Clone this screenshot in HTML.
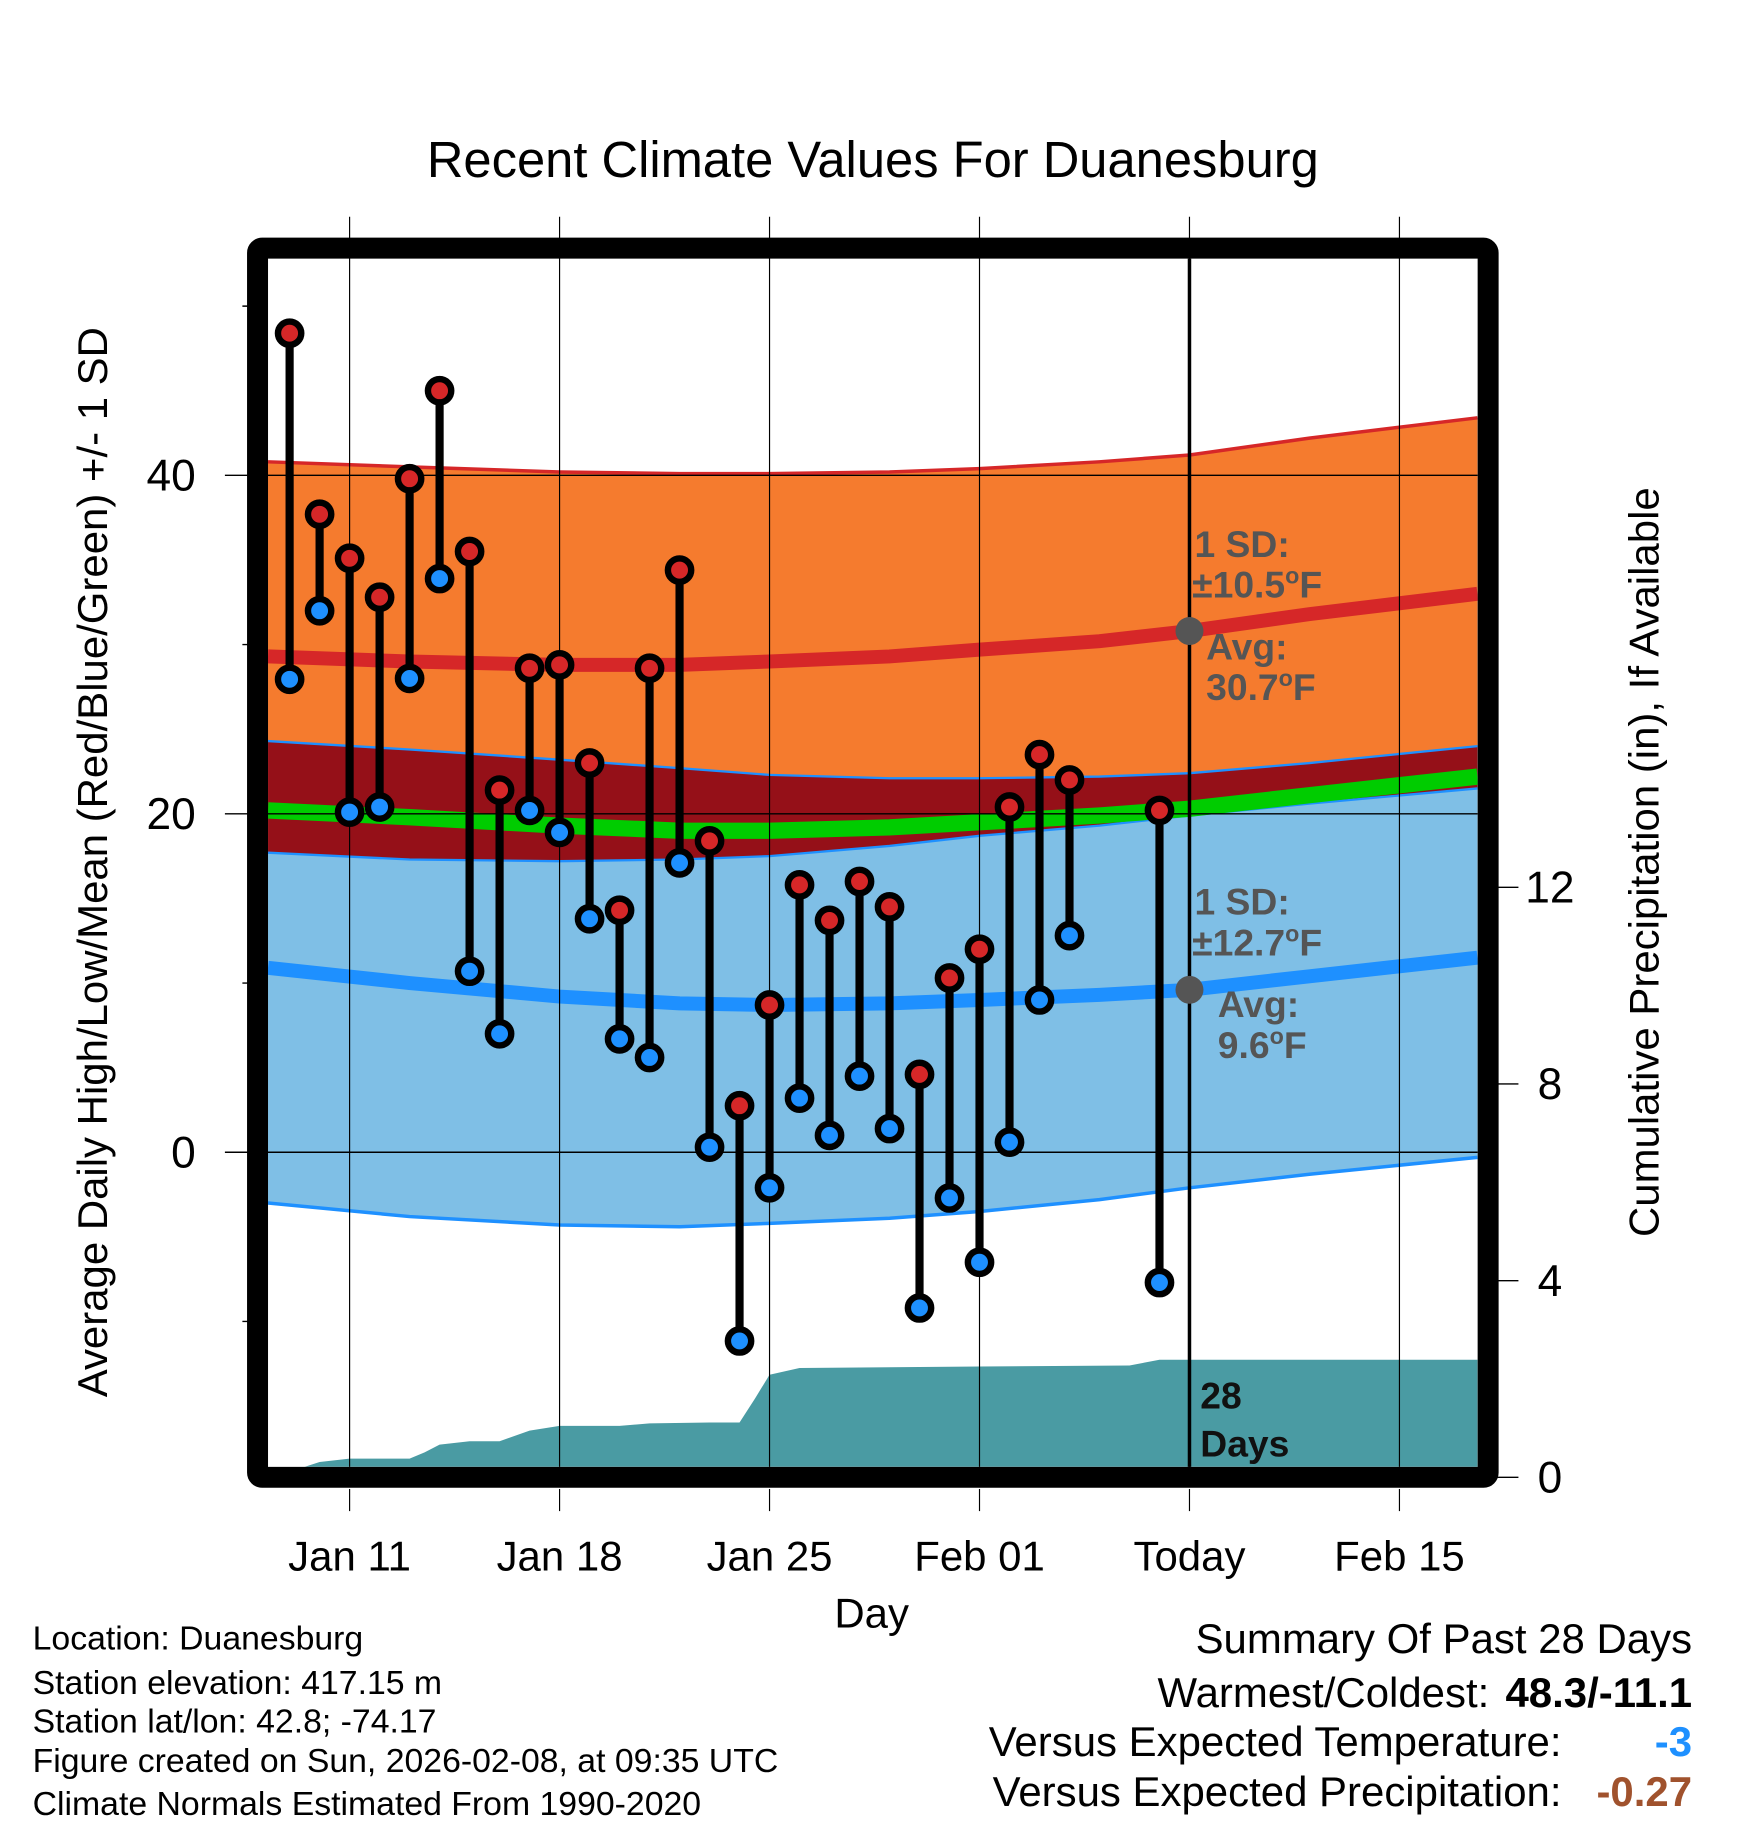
<!DOCTYPE html>
<html><head><meta charset="utf-8"><style>
html,body{margin:0;padding:0;background:#fff}
svg{display:block}
text{font-family:"Liberation Sans",Arial,sans-serif}
</style></head><body>
<svg id="chart" width="1748" height="1828" viewBox="0 0 1500 1569" preserveAspectRatio="none" xmlns="http://www.w3.org/2000/svg">
<rect width="1500" height="1569" fill="#fff"/>
<text x="749" y="152" font-size="43.5" text-anchor="middle">Recent Climate Values For Duanesburg</text>
<g id="plot"></g>
<text transform="translate(92,740) rotate(-90)" font-size="36" text-anchor="middle">Average Daily High/Low/Mean (Red/Blue/Green) +/- 1 SD</text>
<text transform="translate(1423,740) rotate(-90)" font-size="36" text-anchor="middle">Cumulative Precipitation (in), If Available</text>
<text x="748" y="1397" font-size="36" text-anchor="middle">Day</text>
<g font-size="29">
<text x="28" y="1416">Location: Duanesburg</text>
<text x="28" y="1454">Station elevation: 417.15 m</text>
<text x="28" y="1487">Station lat/lon: 42.8; -74.17</text>
<text x="28" y="1521">Figure created on Sun, 2026-02-08, at 09:35 UTC</text>
<text x="28" y="1558">Climate Normals Estimated From 1990-2020</text>
</g>
<g font-size="36">
<text x="1452" y="1419" text-anchor="end">Summary Of Past 28 Days</text>
<text x="1278" y="1465" text-anchor="end">Warmest/Coldest:</text>
<text x="1452" y="1465" text-anchor="end" font-weight="bold">48.3/-11.1</text>
<text x="1340" y="1507" text-anchor="end">Versus Expected Temperature:</text>
<text x="1452" y="1507" text-anchor="end" font-weight="bold" fill="#1e90ff">-3</text>
<text x="1340" y="1550" text-anchor="end">Versus Expected Precipitation:</text>
<text x="1452" y="1550" text-anchor="end" font-weight="bold" fill="#a0522d">-0.27</text>
</g>
</svg>
<script>
// day index: Jan d = d, Feb d = 31+d
const days  = [9,10,11,12,13,14,15,16,17,18,19,20,21,22,23,24,25,26,27,28,29,30,31,32,33,34,35,38];
const highs = [48.4,37.7,35.1,32.8,39.8,45.0,35.5,21.4,28.6,28.8,23.0,14.3,28.6,34.4,18.4,2.75,8.7,15.8,13.7,16.0,14.5,4.6,10.3,12.0,20.4,23.5,22.0,20.2];
const lows  = [27.95,32.0,20.1,20.4,28.0,33.9,10.7,7.0,20.2,18.9,13.8,6.7,5.6,17.1,0.3,-11.15,-2.1,3.2,1.0,4.5,1.4,-9.2,-2.7,-6.5,0.6,9.0,12.8,-7.7];
const normDays  = [8.28,13,18,22,25,29,32,36,39,43,48.6];
const normHigh  = [29.3,29.0,28.8,28.8,29.0,29.3,29.7,30.2,30.8,31.8,33.0];
const normHighHi= [40.8,40.5,40.2,40.1,40.1,40.2,40.4,40.8,41.2,42.2,43.4];
const normHighLo= [24.3,23.8,23.2,22.7,22.3,22.1,22.1,22.2,22.4,23.0,24.0];
const normLow   = [10.9,10.0,9.2,8.8,8.7,8.8,9.0,9.3,9.6,10.4,11.5];
const normLowHi = [17.7,17.3,17.2,17.3,17.5,18.1,18.7,19.3,19.9,20.6,21.5];
const normLowLo = [-3.0,-3.8,-4.3,-4.4,-4.2,-3.9,-3.5,-2.8,-2.1,-1.3,-0.3];
const normMean  = [20.2,19.8,19.3,19.0,19.0,19.2,19.5,19.9,20.3,21.1,22.2];
const precipDays= [8.28,9.5,10,11,13,13.5,14,15,16,17,18,20,21,23,24,24.5,25,26,32,37,38,48.6];
const precipVal = [0,0,0.1,0.17,0.17,0.3,0.46,0.53,0.53,0.75,0.85,0.85,0.9,0.92,0.92,1.4,1.91,2.05,2.08,2.1,2.22,2.22];
const xTickDays  = [11,18,25,32,39,46];
const xTickLabels= ["Jan 11","Jan 18","Jan 25","Feb 01","Today","Feb 15"];
const yTicks = [0,20,40];
const yMinor = [-10,10,30,50];
const pTicks = [0,4,8,12];

const L=230,R=1268,T=222,B=1259;
const x = d => 300 + (d-11)*25.74;
const y = t => 989 - t*14.525;
const yp = p => B - p*41.4;
const NS='http://www.w3.org/2000/svg';
const g=document.getElementById('plot');
function mk(tag,attrs,parent){const e=document.createElementNS(NS,tag);for(const k in attrs)e.setAttribute(k,attrs[k]);(parent||g).appendChild(e);return e;}
const clip=mk('clipPath',{id:'pc'});mk('rect',{x:L,y:T,width:R-L,height:B-T},clip);
const pg=mk('g',{'clip-path':'url(#pc)'});
function bandP(upper,lower,fill,name){
  let d='M'+normDays.map((dd,i)=>x(dd)+','+y(upper[i])).join('L');
  d+='L'+normDays.slice().reverse().map((dd,i)=>x(dd)+','+y(lower[normDays.length-1-i])).join('L')+'Z';
  const e=mk('path',{d:d,fill:fill},pg);
  
  
}
function lineP(vals,stroke,w,name){
  const e=mk('path',{d:'M'+normDays.map((dd,i)=>x(dd)+','+y(vals[i])).join('L'),fill:'none',stroke:stroke,'stroke-width':w},pg);
  
  
}
bandP(normHighHi,normHighLo,'#f57b2e','high-sd-band');
bandP(normHighLo,normLowHi,'#951018','overlap-band');
bandP(normLowHi,normLowLo,'#7fbfe6','low-sd-band');
lineP(normHighHi,'#d62728',3,'high-plus-sd-line');
lineP(normHighLo,'#1e90ff',2,'high-minus-sd-line');
lineP(normLowHi,'#1e90ff',2,'low-plus-sd-line');
lineP(normLowLo,'#1e90ff',3,'low-minus-sd-line');
lineP(normMean,'#00cc00',14,'mean-band');
lineP(normHigh,'#d62728',12,'avg-high-line');
lineP(normLow,'#1e90ff',12,'avg-low-line');
// precipitation
let pd='M'+x(precipDays[0])+','+B+'L'+precipDays.map((dd,i)=>x(dd)+','+yp(precipVal[i])).join('L')+'L'+x(precipDays[precipDays.length-1])+','+B+'Z';
const pe=mk('path',{d:pd,fill:'#4a9ba3'},pg);


// gridlines
xTickDays.forEach((d,i)=>{
  const gl=mk('line',{x1:x(d),x2:x(d),y1:186,y2:B,stroke:'#000','stroke-width':1});
  
  
  mk('line',{x1:x(d),x2:x(d),y1:1278,y2:1297,stroke:'#000','stroke-width':1});
  const t=mk('text',{x:x(d),y:1348,'font-size':36,'text-anchor':'middle'});t.textContent=xTickLabels[i];
  
  
});
yTicks.forEach(v=>{
  const gl=mk('line',{x1:193,x2:R,y1:y(v),y2:y(v),stroke:'#000','stroke-width':1.2});
  
  
  const t=mk('text',{x:168,y:y(v)+13,'font-size':38,'text-anchor':'end'});t.textContent=v;
  
  
});
yMinor.forEach(v=>{mk('line',{x1:208,x2:222,y1:y(v),y2:y(v),stroke:'#000','stroke-width':1.2});});
pTicks.forEach(v=>{
  const yy=1268-v*42.2;
  mk('line',{x1:1285,x2:1303,y1:yy,y2:yy,stroke:'#000','stroke-width':1.2});
  const t=mk('text',{x:1330,y:yy+13,'font-size':38,'text-anchor':'middle'});t.textContent=v;
  
  
});
// today line
const td=mk('line',{x1:x(39),x2:x(39),y1:T,y2:B,stroke:'#000','stroke-width':3});


// annotations
function txt(s,xx,yy,fill,name){const t=mk('text',{x:xx,y:yy,'font-size':32,'font-weight':'bold',fill:fill});t.innerHTML=s;
  
  }
mk('circle',{cx:x(39),cy:y(normHigh[8]),r:12,fill:'#555'});
mk('circle',{cx:x(39),cy:y(normLow[8]),r:12,fill:'#555'});
txt('1 SD:',1025,478,'#555','high-sd-label');
txt('±10.5<tspan font-size="20" dy="-12">o</tspan><tspan dy="12">F</tspan>',1023,513,'#555','high-sd-value');
txt('Avg:',1035,566,'#555','avg-high-label');
txt('30.7<tspan font-size="20" dy="-12">o</tspan><tspan dy="12">F</tspan>',1035,601,'#555','avg-high-value');
txt('1 SD:',1025,785,'#555','low-sd-label');
txt('±12.7<tspan font-size="20" dy="-12">o</tspan><tspan dy="12">F</tspan>',1023,820,'#555','low-sd-value');
txt('Avg:',1045,873,'#555','avg-low-label');
txt('9.6<tspan font-size="20" dy="-12">o</tspan><tspan dy="12">F</tspan>',1045,908,'#555','avg-low-value');
txt('28',1030,1209,'#111','days-count');
txt('Days',1030,1250,'#111','days-label');
// stems
days.forEach((d,i)=>{
  const s=mk('line',{x1:x(d),x2:x(d),y1:y(highs[i]),y2:y(lows[i]),stroke:'#000','stroke-width':7});
  
  
});
days.forEach((d,i)=>{
  const h=mk('circle',{cx:x(d),cy:y(highs[i]),r:10,fill:'#d62728',stroke:'#000','stroke-width':5.5});
  
  
  const l=mk('circle',{cx:x(d),cy:y(lows[i]),r:10,fill:'#1e90ff',stroke:'#000','stroke-width':5.5});
  
  
});
// frame
const fr=mk('rect',{x:221,y:213,width:1056,height:1055,fill:'none',stroke:'#000','stroke-width':18,rx:4});


</script>
</body></html>
